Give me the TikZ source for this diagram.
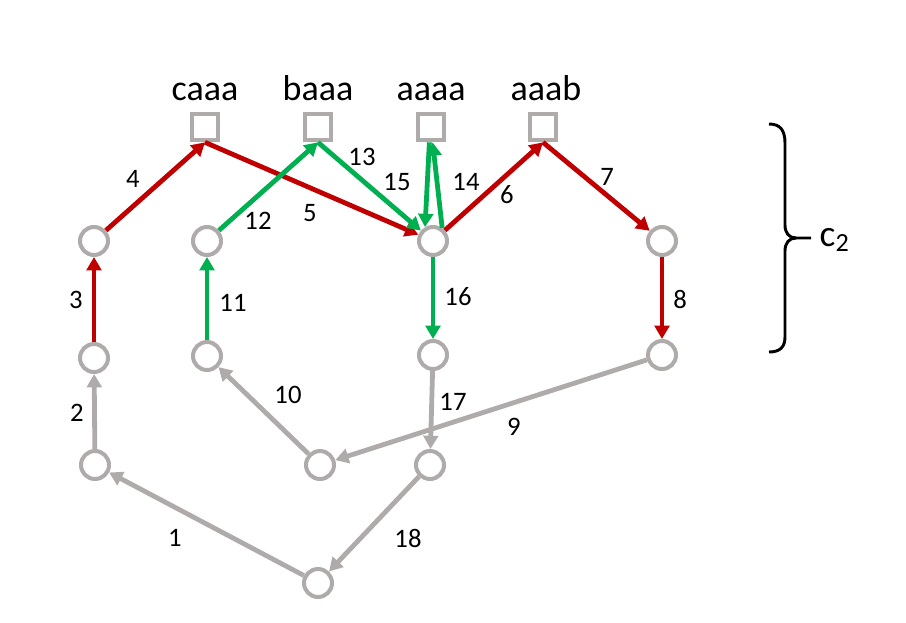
\documentclass[tikz,border=0pt]{standalone}
\usepackage{fontspec}
\setmainfont{Carlito}
\usetikzlibrary{arrows.meta}
\definecolor{grey}{HTML}{AFABAB}
\definecolor{dred}{HTML}{C00000}
\definecolor{dgreen}{HTML}{00B050}
\tikzset{
  vert/.style={circle,draw=grey,fill=white,line width=3pt,minimum size=21pt,inner sep=0pt},
  leaf/.style={rectangle,draw=grey,fill=white,line width=3pt,minimum size=20pt,inner sep=0pt},
  edge/.style={line width=3.6pt,-{Triangle[length=10pt,width=11pt]}},
  num/.style={font=\fontsize{20}{24}\selectfont},
  word/.style={font=\fontsize{27}{32}\selectfont,anchor=base},
}
\begin{document}
\begin{tikzpicture}[x=0.75pt,y=-0.75pt]
\useasboundingbox (0,0) rectangle (906,622);
% leaves
\node[leaf] (S1) at (205,127) {};
\node[leaf] (S2) at (318,127) {};
\node[leaf] (S3) at (431,127) {};
\node[leaf] (S4) at (543,127) {};
\node[word] (w1) at (205,100) {caaa};
\node[word] (w2) at (318,100) {baaa};
\node[word] (w3) at (431,100) {aaaa};
\node[word] (w4) at (546,100) {aaab};
% states
\node[vert] (A1) at (94,241) {};
\node[vert] (A2) at (207,241) {};
\node[vert] (A3) at (433,241) {};
\node[vert] (A4) at (662,241) {};
\node[vert] (B1) at (94,358) {};
\node[vert] (B2) at (207,356) {};
\node[vert] (B3) at (433,355) {};
\node[vert] (B4) at (662,355) {};
\node[vert] (C1) at (95,465) {};
\node[vert] (C2) at (320,465) {};
\node[vert] (C3) at (430,465) {};
\node[vert] (R) at (318,583) {};
% grey steps
\draw[edge,grey] (R) -- (C1);
\draw[edge,grey] (C1) -- (B1);
\draw[edge,grey] (B4) -- (C2);
\draw[edge,grey] (C2) -- (B2);
\draw[edge,grey] (B3) -- (C3);
\draw[edge,grey] (C3) -- (R);
% red steps
\draw[edge,dred] (B1) -- (A1);
\draw[edge,dred] (A1) -- (S1.south);
\draw[edge,dred] (S1.south) -- (A3);
\draw[edge,dred] (A3) -- (S4.south);
\draw[edge,dred] (S4.south) -- (A4);
\draw[edge,dred] (A4) -- (B4);
% green steps
\draw[edge,dgreen] (B2) -- (A2);
\draw[edge,dgreen] (A2) -- (S2.south);
\draw[edge,dgreen] (S2.south) -- (A3);
\draw[edge,dgreen] (A3.55) -- (S3.-84);
\draw[edge,dgreen] (S3.-96) -- (A3.120);
\draw[edge,dgreen] (A3) -- (B3);
% step numbers
\node[num] (n1) at (175,538) {1};
\node[num] (n2) at (77,413) {2};
\node[num] (n3) at (76,300) {3};
\node[num] (n4) at (133,179) {4};
\node[num] (n5) at (310,213) {5};
\node[num] (n6) at (507,195) {6};
\node[num] (n7) at (607,177) {7};
\node[num] (n8) at (680,299) {8};
\node[num] (n9) at (514,427) {9};
\node[num] (n10) at (288,395) {10};
\node[num] (n11) at (233,303) {11};
\node[num] (n12) at (258,221) {12};
\node[num] (n13) at (362,157) {13};
\node[num] (n14) at (466,182) {14};
\node[num] (n15) at (397,182) {15};
\node[num] (n16) at (458,297) {16};
\node[num] (n17) at (453,402) {17};
\node[num] (n18) at (408,538) {18};
% brace
\draw[line width=2.2pt] (769,124) .. controls (780,124) and (785,130) .. (785,143)
  -- (785,225) .. controls (785,233) and (789,238) .. (796,238) -- (811,238);
\draw[line width=2.2pt] (796,238) .. controls (789,238) and (785,243) .. (785,251)
  -- (785,337) .. controls (785,347) and (780,352) .. (769,352);
\node[font=\fontsize{28}{32}\selectfont,anchor=base west] (c2) at (815,246) {c\textsubscript{2}};
\end{tikzpicture}
\end{document}
